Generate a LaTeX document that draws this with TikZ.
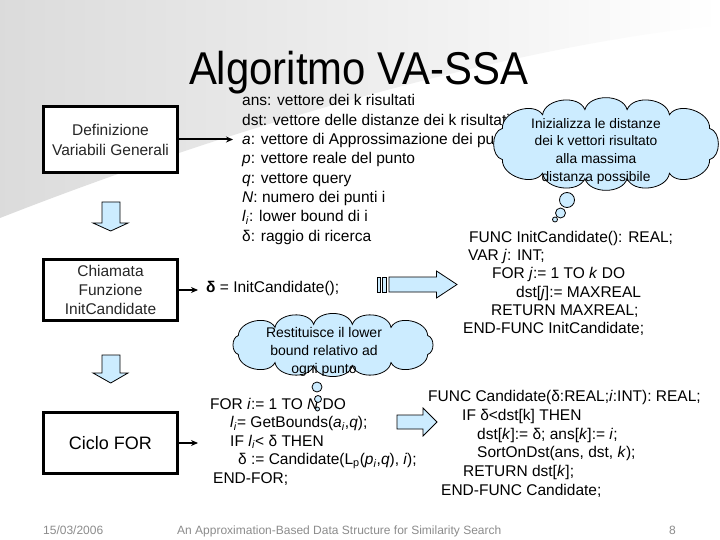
\documentclass[tikz,border=0pt]{standalone}
\usepackage{fontspec}
\setmainfont{Liberation Sans}
\usetikzlibrary{arrows.meta}
\definecolor{lblue}{RGB}{204,236,255}
\definecolor{footgray}{RGB}{140,140,140}
\tikzset{
  txt/.style={anchor=base west, inner sep=0pt, font=\fontsize{15.5}{18}\selectfont},
  foot/.style={anchor=base west, inner sep=0pt, text=footgray, font=\fontsize{12}{14}\selectfont},
  boxnode/.style={draw, line width=3pt, minimum width=134pt, align=center, fill=white, inner sep=2pt, text=black!85},
  conn/.style={line width=2pt, -{Stealth[length=7pt,width=6pt]}},
  blk/.style={draw=black, line width=0.8pt, fill=lblue},
  cloudline/.style={draw=black, line width=0.8pt, fill=lblue},
  bubble/.style={circle, draw, fill=lblue, line width=0.8pt, inner sep=0pt},
  cloudtxt/.style={align=center, inner sep=0pt}
}
% cloud outline: centre x, centre y, half width a, half height b
\newcommand\mycloud[4]{%
  \path[cloudline] ({#1+#3*cos(26.6)},{#2+#4*sin(26.6)})
    \foreach \t in {56.8,79.5,100.5,123.2,153.4,206.6,236.8,259.5,280.5,303.2,333.4,386.6}
      { to[bend left=75] ({#1+#3*cos(\t)},{#2+#4*sin(\t)}) } -- cycle;}
\begin{document}
\begin{tikzpicture}[x=1pt,y=-1pt]
\useasboundingbox (0,0) rectangle (720,540);
\fill[white] (0,0) rectangle (720,540);
% background swoosh
\shade[left color=black!14, right color=white] (0,0) -- (720,0) -- (720,25)
  .. controls (520,45) and (250,120) .. (0,218) -- cycle;

% title
\node[inner sep=0pt, anchor=base, font=\fontsize{46}{50}\selectfont] (title) at (358.5,85) {\scalebox{0.91}[1]{Algoritmo VA-SSA}};

% left boxes
\node[boxnode, minimum height=66pt, font=\fontsize{15.5}{20}\selectfont] (def) at (110.5,139.5) {Definizione\\Variabili Generali};
\node[boxnode, minimum height=61pt, font=\fontsize{15.5}{19}\selectfont] (call) at (110.5,290) {Chiamata\\Funzione\\InitCandidate};
\node[boxnode, minimum height=61pt, font=\fontsize{18}{20}\selectfont, text=black] (loop) at (110.5,443) {Ciclo FOR};

% down block arrows
\draw[blk] (102,202) -- (120,202) -- (120,223) -- (128,223) -- (110.7,231) -- (93,223) -- (102,223) -- cycle;
\draw[blk] (102,355) -- (120,355) -- (120,373) -- (128,373) -- (110.7,383) -- (93,373) -- (102,373) -- cycle;

% connectors
\coordinate (e1) at (233,139.5);
\coordinate (e2) at (198,290);
\coordinate (e3) at (198,443);
\draw[conn] (def.east) -- (e1);
\draw[conn] (call.east) -- (e2);
\draw[conn] (loop.east) -- (e3);

% variable list
\node[txt] (v1) at (242,106) {ans: vettore dei k risultati};
\node[txt] (v2) at (242,125.3) {dst: vettore delle distanze dei k risultati};
\node[txt] (v3) at (242,144.6) {\textit{a}: vettore di Approssimazione dei punti};
\node[txt] (v4) at (242,163.9) {\textit{p}: vettore reale del punto};
\node[txt] (v5) at (242,183.2) {\textit{q}: vettore query};
\node[txt] (v6) at (242,202.5) {\textit{N}: numero dei punti i};
\node[txt] (v7) at (242,221.8) {\textit{l}\textsubscript{\textit{i}}: lower bound di i};
\node[txt] (v8) at (242,241.1) {δ: raggio di ricerca};

% cloud 1
\mycloud{606}{144}{115.8}{35}
\node[cloudtxt, font=\fontsize{13.8}{17.7}\selectfont] (cl1t) at (596,151) {Inizializza le distanze\\dei k vettori risultato\\alla massima\\distanza possibile};
\node[bubble, minimum size=15pt] (b11) at (567,200) {};
\node[bubble, minimum size=10pt] (b12) at (560.5,213) {};
\node[bubble, minimum size=5pt] (b13) at (555,219.5) {};

% InitCandidate code
\node[txt] (f1) at (469,242.2) {FUNC InitCandidate(): REAL;};
\node[txt] (f2) at (468,260.5) {VAR \textit{j}: INT;};
\node[txt] (f3) at (492,278.8) {FOR \textit{j}:= 1 TO \textit{k} DO};
\node[txt] (f4) at (516,297.1) {dst[\textit{j}]:= MAXREAL};
\node[txt] (f5) at (491,315.4) {RETURN MAXREAL;};
\node[txt] (f6) at (463,333.7) {END-FUNC InitCandidate;};

% call line
\node[txt] (dcall) at (206,292.5) {\textbf{δ} = InitCandidate();};

% striped right arrow
\draw[blk] (377,277) rectangle (380,292);
\draw[blk] (382,277) rectangle (386.5,292);
\draw[blk] (389,277) -- (436.5,277) -- (436.5,271) -- (457,284.5) -- (436.5,298) -- (436.5,292) -- (389,292) -- cycle;

% FOR loop
\node[txt] (l1) at (210,409) {FOR \textit{i}:= 1 TO \textit{N} DO};
\node[txt] (l2) at (230,427.5) {\textit{l}\textsubscript{\textit{i}}= GetBounds(\textit{a}\textsubscript{\textit{i}},\textit{q});};
\node[txt] (l3) at (230,446) {IF \textit{l}\textsubscript{\textit{i}}< δ THEN};
\node[txt] (l4) at (238,464.5) {δ := Candidate(L\textsubscript{p}(\textit{p}\textsubscript{\textit{i}},\textit{q}), \textit{i});};
\node[txt] (l5) at (213,483) {END-FOR;};

% cloud 2
\mycloud{333}{345}{105.9}{21}
\node[cloudtxt, font=\fontsize{14}{18}\selectfont] (cl2t) at (324,352) {Restituisce il lower\\bound relativo ad\\ogni punto};
\node[bubble, minimum size=10pt] (b21) at (317,387) {};
\node[bubble, minimum size=7pt] (b22) at (318,399) {};
\node[bubble, minimum size=4pt] (b23) at (317.5,409) {};

% right arrow 2
\draw[blk] (397,415) -- (423,415) -- (423,408) -- (437,422) -- (423,436) -- (423,429) -- (397,429) -- cycle;

% Candidate code
\node[txt] (g1) at (428,401.5) {FUNC Candidate(δ:REAL;\textit{i}:INT): REAL;};
\node[txt] (g2) at (462,420.3) {IF δ<dst[k] THEN};
\node[txt] (g3) at (477,439.1) {dst[\textit{k}]:= δ; ans[\textit{k}]:= \textit{i};};
\node[txt] (g4) at (477,457.9) {SortOnDst(ans, dst, \textit{k});};
\node[txt] (g5) at (463,476.7) {RETURN dst[\textit{k}];};
\node[txt] (g6) at (441,495.5) {END-FUNC Candidate;};

% footer
\node[foot] (date) at (43,534) {15/03/2006};
\node[foot] (ftitle) at (177,534) {An Approximation-Based Data Structure for Similarity Search};
\node[foot] (pg) at (669,534) {8};
\end{tikzpicture}
\end{document}
